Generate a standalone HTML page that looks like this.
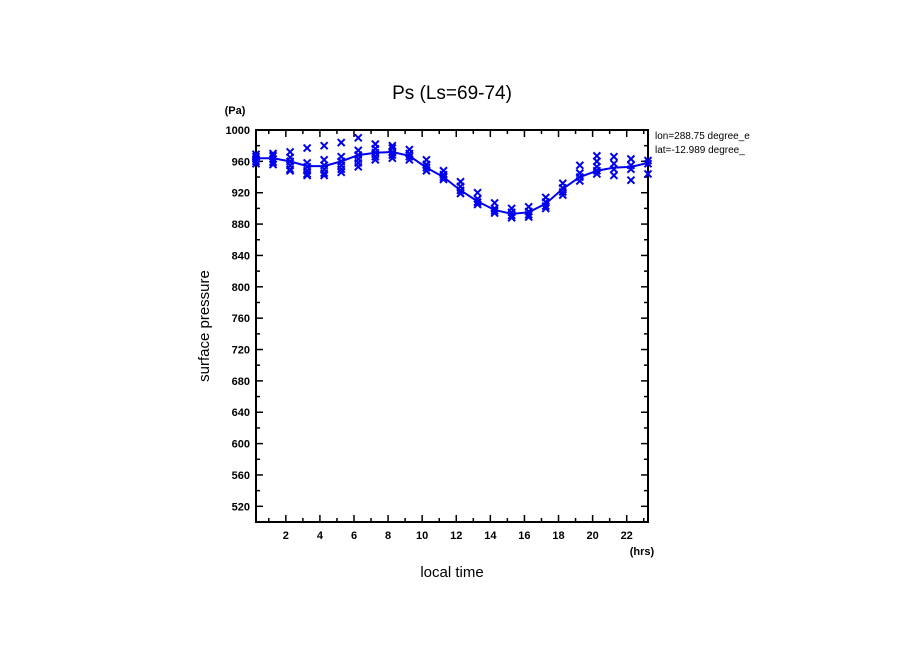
<!DOCTYPE html>
<html><head><meta charset="utf-8"><style>
body{margin:0;background:#fff}
svg text{font-family:"Liberation Sans",sans-serif;font-weight:bold;fill:#000}
</style></head><body>
<svg id="c" width="904" height="654" xmlns="http://www.w3.org/2000/svg">
<rect width="904" height="654" fill="#fff"/>
<text x="452" y="99" text-anchor="middle" style="font-size:19px;font-weight:normal">Ps (Ls=69-74)</text>
<text x="235" y="114" text-anchor="middle" style="font-size:11px">(Pa)</text>
<text x="642" y="555" text-anchor="middle" style="font-size:11px">(hrs)</text>
<text x="452" y="577" text-anchor="middle" style="font-size:15px;font-weight:normal">local time</text>
<text transform="translate(209,326) rotate(-90)" text-anchor="middle" style="font-size:15px;font-weight:normal">surface pressure</text>
<text x="655" y="139" style="font-size:10px;font-weight:normal">lon=288.75 degree_e</text>
<text x="655" y="153" style="font-size:10px;font-weight:normal">lat=-12.989 degree_</text>
<rect x="780" y="125" width="40" height="35" fill="#fff"/>
<g id="axes"></g><g id="marks"></g>
</svg>
<script>
const hours=[0.25,1.25,2.25,3.25,4.25,5.25,6.25,7.25,8.25,9.25,10.25,11.25,12.25,13.25,14.25,15.25,16.25,17.25,18.25,19.25,20.25,21.25,22.25,23.25];
const meanPs=[964,964,960,954,954,960,968,971,972,967,952,940,923,909,898,893,895,906,925,940,948,952,953,958];
const samplesPs=[
[969,966,963,960,957],[970,967,963,959,956],[972,965,960,955,950,948],[977,958,953,948,944,942],[980,962,955,950,945,942],[984,966,960,955,950,946],
[990,974,968,963,958,953],[982,976,971,966,962],[980,977,972,968,964],[975,970,966,962],[962,956,952,948],[948,943,940,937],
[934,928,923,919],[920,912,908,905],[907,900,897,894],[900,895,891,888],[902,896,892,889],[914,908,903,900],[932,926,921,917],[955,945,940,935],
[967,960,953,948,944],[966,957,950,942],[963,955,950,936],[961,957,944]];
const yTicks=[520,560,600,640,680,720,760,800,840,880,920,960,1000];
const xTicks=[2,4,6,8,10,12,14,16,18,20,22];
const L=256,R=648,T=130,B=522,x0=0.25,x1=23.25,y0=500,y1=1000;
const X=v=>L+(v-x0)/(x1-x0)*(R-L), Y=v=>B-(v-y0)/(y1-y0)*(B-T);
const NS='http://www.w3.org/2000/svg';
function mk(t,a,p){const e=document.createElementNS(NS,t);for(const k in a)e.setAttribute(k,a[k]);p.appendChild(e);return e;}
const ax=document.getElementById('axes'),mg=document.getElementById('marks');
const fr=mk('rect',{x:L,y:T,width:R-L,height:B-T,fill:'none',stroke:'#000','stroke-width':2},ax);


for(let v=500;v<=1000;v+=20){const y=Y(v),len=v%40===0?7:4;
mk('line',{x1:L,x2:L+len,y1:y,y2:y,stroke:'#000','stroke-width':1.5},ax);
mk('line',{x1:R,x2:R-len,y1:y,y2:y,stroke:'#000','stroke-width':1.5},ax);}
yTicks.forEach(v=>{const t=mk('text',{x:L-6,y:Y(v)+4,'text-anchor':'end',style:'font-size:11px'},ax);t.textContent=v;

});
for(let h=1;h<=23;h++){const x=X(h),len=h%2===0?7:4;
mk('line',{x1:x,x2:x,y1:B,y2:B-len,stroke:'#000','stroke-width':1.5},ax);
mk('line',{x1:x,x2:x,y1:T,y2:T+len,stroke:'#000','stroke-width':1.5},ax);}
xTicks.forEach(v=>{const t=mk('text',{x:X(v),y:B+17,'text-anchor':'middle',style:'font-size:11px'},ax);t.textContent=v;

});
const ln=mk('polyline',{points:hours.map((h,i)=>X(h)+','+Y(meanPs[i])).join(' '),fill:'none',stroke:'#0000ee','stroke-width':2},mg);


hours.forEach((h,i)=>samplesPs[i].forEach(v=>{const x=X(h),y=Y(v),s=3.5;
const p=mk('path',{d:`M${x-s},${y-s}L${x+s},${y+s}M${x-s},${y+s}L${x+s},${y-s}`,stroke:'#0000ee','stroke-width':2},mg);

}));
</script>
</body></html>
